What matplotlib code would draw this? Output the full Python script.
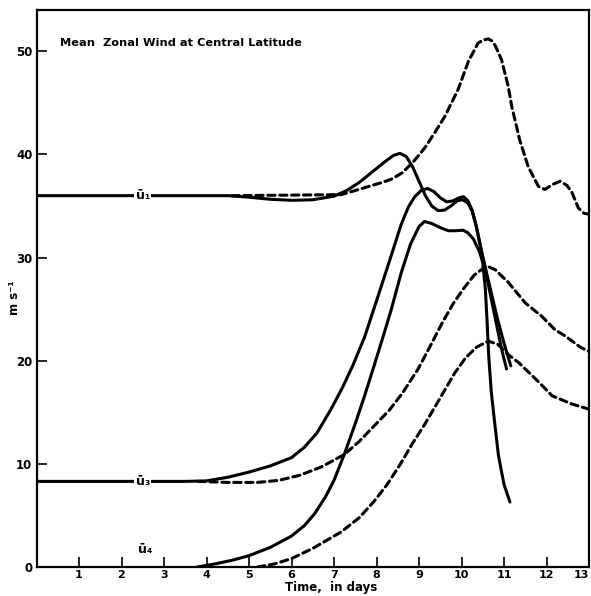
import matplotlib
matplotlib.use("Agg")
import matplotlib.pyplot as plt

# ---------------- data ----------------
u1_solid_day = [0, 4.5, 5.0, 5.5, 6.0, 6.5, 7.0, 7.3, 7.6, 7.9, 8.2, 8.4, 8.55, 8.7, 8.85,
                9.0, 9.15, 9.3, 9.45, 9.6, 9.75, 9.9, 10.02, 10.15, 10.25, 10.35, 10.45,
                10.55, 10.65, 10.75, 10.85, 10.95, 11.06]
u1_solid_ms = [36.0, 36.0, 35.85, 35.65, 35.55, 35.6, 35.95, 36.5, 37.3, 38.3, 39.3, 39.9, 40.1,
               39.8, 38.8, 37.4, 36.0, 35.0, 34.55, 34.6, 35.0, 35.5, 35.6, 35.3, 34.5, 33.0,
               31.0, 29.0, 27.0, 25.0, 23.0, 21.0, 19.2]

u1_dash_day = [4.6, 7.17, 7.5, 7.9, 8.15, 8.35, 8.6, 8.85, 9.13, 9.37, 9.61, 9.92, 10.16,
               10.39, 10.52, 10.63, 10.72, 10.8, 10.94, 11.1, 11.18, 11.37, 11.57, 11.81,
               11.96, 12.15, 12.32, 12.48, 12.6, 12.75, 12.88, 13.0]
u1_dash_ms = [36.0, 36.1, 36.5, 37.0, 37.3, 37.6, 38.2, 39.2, 40.6, 42.1, 43.7, 46.3, 49.0,
              50.8, 51.1, 51.2, 51.0, 50.5, 49.2, 46.6, 44.7, 41.4, 38.8, 36.9, 36.6, 37.1,
              37.4, 37.0, 36.3, 34.8, 34.3, 34.2]

u3_solid_day = [0, 3.5, 4.0, 4.5, 5.0, 5.5, 6.0, 6.3, 6.6, 6.93, 7.2, 7.45, 7.72, 8.0, 8.3,
                8.58, 8.75, 8.9, 9.05, 9.2, 9.35, 9.5, 9.65, 9.8, 9.95, 10.05, 10.15, 10.25,
                10.35, 10.45, 10.55, 10.7, 10.85, 11.0, 11.16]
u3_solid_ms = [8.3, 8.3, 8.35, 8.7, 9.2, 9.8, 10.6, 11.6, 13.0, 15.3, 17.4, 19.6, 22.3, 25.8,
               29.6, 33.2, 34.9, 35.9, 36.5, 36.7, 36.4, 35.8, 35.4, 35.5, 35.8, 35.9, 35.5,
               34.6, 33.0, 31.0, 29.2, 26.6, 24.0, 21.7, 19.5]

u3_dash_day = [3.8, 4.5, 5.2, 5.7, 6.2, 6.7, 7.24, 7.6, 7.95, 8.3, 8.6, 8.98, 9.3, 9.55,
               9.8, 10.05, 10.3, 10.59, 10.8, 11.1, 11.5, 11.89, 12.2, 12.44, 12.8, 13.0]
u3_dash_ms = [8.3, 8.2, 8.2, 8.4, 8.9, 9.7, 10.9, 12.2, 13.7, 15.2, 16.8, 19.2, 21.7, 23.7,
              25.5, 27.0, 28.3, 29.2, 28.8, 27.6, 25.6, 24.3, 23.0, 22.4, 21.3, 20.9]

u4_solid_day = [3.78, 4.2, 4.6, 5.0, 5.5, 6.0, 6.3, 6.55, 6.8, 7.0, 7.24, 7.5, 7.72, 7.95,
                8.19, 8.35, 8.58, 8.8, 9.0, 9.13, 9.3, 9.5, 9.69, 9.85, 10.04, 10.15, 10.28,
                10.43, 10.5, 10.56, 10.6, 10.64, 10.7, 10.78, 10.87, 11.0, 11.14]
u4_solid_ms = [0.0, 0.3, 0.65, 1.1, 1.9, 3.0, 4.0, 5.2, 6.8, 8.4, 10.9, 13.9, 16.6, 19.6,
               22.8, 25.0, 28.5, 31.3, 33.0, 33.5, 33.3, 32.9, 32.6, 32.6, 32.65, 32.4, 31.8,
               30.5, 29.5, 27.0, 24.0, 20.5, 17.0, 14.0, 10.8, 8.0, 6.3]

u4_dash_day = [5.2, 5.6, 5.99, 6.5, 7.17, 7.6, 7.95, 8.25, 8.55, 8.85, 9.13, 9.5, 9.84,
               10.1, 10.35, 10.63, 10.85, 11.1, 11.35, 11.6, 11.85, 12.13, 12.6, 13.0]
u4_dash_ms = [0.0, 0.3, 0.8, 1.8, 3.4, 4.8, 6.4, 8.0, 9.9, 12.0, 13.8, 16.4, 18.8, 20.3,
              21.3, 21.9, 21.6, 20.6, 19.8, 18.8, 17.8, 16.6, 15.8, 15.3]

curve_labels = ["\u016b\u2081", "\u016b\u2083", "\u016b\u2084"]
label_day = [2.5, 2.5, 2.55]
label_ms = [36.0, 8.3, 1.7]

x_ticks = list(range(1, 14))
y_ticks = [0, 10, 20, 30, 40, 50]

title = "Mean  Zonal Wind at Central Latitude"
xlabel = "Time,  in days"
ylabel = "m s\u207b\u00b9"

# ---------------- figure ----------------
fig = plt.figure(figsize=(5.91, 5.96), dpi=100)
ax = fig.add_axes([36.5 / 591, 29 / 596, (589 - 36.5) / 591, (567 - 10) / 596])
ax.set_xlim(0, 13)
ax.set_ylim(0, 54)

lw = 2.2
solid_kw = dict(color="black", lw=lw, solid_capstyle="round", solid_joinstyle="round", zorder=3)
dash_kw = dict(color="black", lw=lw, dashes=(2.4, 1.5), dash_capstyle="round",
               dash_joinstyle="round", zorder=3)

ax.plot(u1_dash_day, u1_dash_ms, **dash_kw)
ax.plot(u3_dash_day, u3_dash_ms, **dash_kw)
ax.plot(u4_dash_day, u4_dash_ms, **dash_kw)
ax.plot(u1_solid_day, u1_solid_ms, **solid_kw)
ax.plot(u3_solid_day, u3_solid_ms, **solid_kw)
ax.plot(u4_solid_day, u4_solid_ms, **solid_kw)

for lab, xd, yd in zip(curve_labels, label_day, label_ms):
    ax.text(xd, yd, lab, fontsize=9, fontweight="bold", ha="center", va="center", zorder=5,
            bbox=dict(facecolor="white", edgecolor="none", pad=1.0))

ax.set_xticks(x_ticks)
ax.set_xticklabels([str(t) for t in x_ticks], fontsize=8, fontweight="bold")
ax.set_yticks(y_ticks)
ax.set_yticklabels([str(t) for t in y_ticks], fontsize=8.5, fontweight="bold")
ax.tick_params(axis="both", direction="in", length=7, width=1.2)
ax.tick_params(axis="x", pad=2)
ax.tick_params(axis="y", pad=3)
ax.get_xticklabels()[-1].set_horizontalalignment("right")

for s in ax.spines.values():
    s.set_linewidth(1.6)

ax.text(0.043, 0.94, title, transform=ax.transAxes, fontsize=8.2, fontweight="bold",
        ha="left", va="center")
ax.set_xlabel(xlabel, fontsize=8.5, fontweight="bold", labelpad=0)
ax.xaxis.set_label_coords(0.533, -0.025)
fig.text(15 / 591, 1 - 298 / 596, ylabel, rotation=90, fontsize=8.5, fontweight="bold",
         ha="center", va="center")

fig.savefig("out.png", dpi=100)
